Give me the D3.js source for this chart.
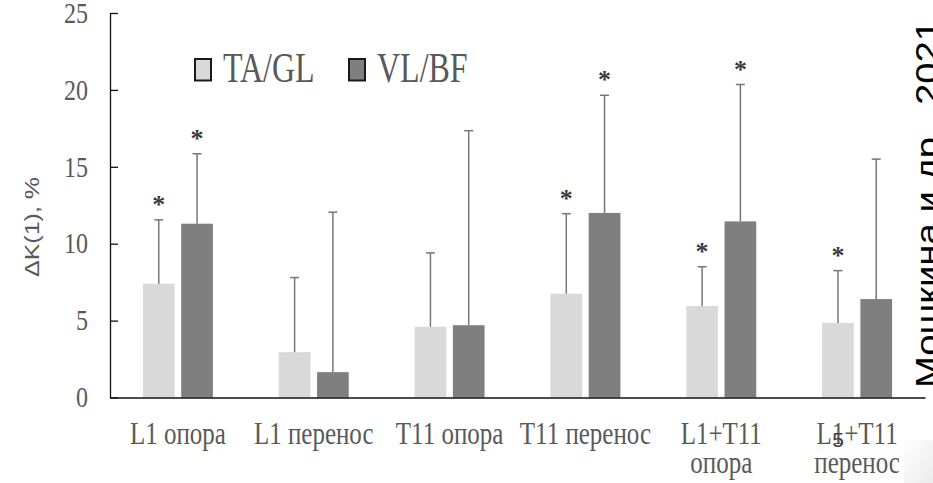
<!DOCTYPE html>
<html>
<head>
<meta charset="utf-8">
<script src="https://cdn.jsdelivr.net/npm/d3@7"></script>
<style>
  html, body { margin: 0; padding: 0; background: #fff; }
  svg { display: block; }
  .serif { font-family: "Liberation Serif", "DejaVu Serif", "Times New Roman", serif; }
  .sans { font-family: "Liberation Sans", "DejaVu Sans", Arial, sans-serif; }
</style>
</head>
<body>
<svg id="chart" width="933" height="483"></svg>
<script>
// Categories (x axis), each split into the lines it is printed on
const categories = ["L1 опора", "L1 перенос", "T11 опора", "T11 перенос", "L1+T11 опора", "L1+T11 перенос"];
const categoryLines = [["L1 опора"], ["L1 перенос"], ["T11 опора"], ["T11 перенос"], ["L1+T11", "опора"], ["L1+T11", "перенос"]];

// Series names
const seriesNames = ["TA/GL", "VL/BF"];

// Mean ΔK(1), % and upper error (SD) per category
const taGl    = [7.4, 2.95, 4.6, 6.75, 5.95, 4.85];
const taGlErr = [4.15, 4.85, 4.8, 5.2, 2.55, 3.4];
const vlBf    = [11.3, 1.65, 4.7, 12.0, 11.45, 6.4];
const vlBfErr = [4.55, 10.4, 12.65, 7.65, 8.9, 9.1];

// Significance marks (*)
const taGlSig = [true, false, false, true, true, true];
const vlBfSig = [true, false, false, true, true, false];

// Y axis ticks
const yTicks = [0, 5, 10, 15, 20, 25];

const seriesColors = ["#d9d9d9", "#7f7f7f"];
const textGray = "#595959";

const svg = d3.select("#chart");
const plot = { left: 110, right: 925, top: 13, bottom: 397.5 };

const y = d3.scaleLinear().domain([0, 25]).range([plot.bottom, plot.top]);
const x0 = d3.scaleBand().domain(categories).range([plot.left, plot.right])
  .paddingInner(0.485).paddingOuter(0.2425);
const x1 = d3.scaleBand().domain(seriesNames).range([0, x0.bandwidth()])
  .paddingInner(0.172).paddingOuter(0);

// Rows for bars
const series = [
  { name: seriesNames[0], values: taGl, errs: taGlErr, sig: taGlSig, color: seriesColors[0] },
  { name: seriesNames[1], values: vlBf, errs: vlBfErr, sig: vlBfSig, color: seriesColors[1] }
];
const rows = [];
series.forEach(s => categories.forEach((c, i) => rows.push({
  cat: c, name: s.name, value: s.values[i], err: s.errs[i], sig: s.sig[i], color: s.color
})));

// Bars
svg.append("g").selectAll("rect").data(rows).join("rect")
  .attr("x", d => x0(d.cat) + x1(d.name))
  .attr("y", d => y(d.value))
  .attr("width", x1.bandwidth())
  .attr("height", d => y(0) - y(d.value))
  .attr("fill", d => d.color);

// Upper error bars
const cx = d => x0(d.cat) + x1(d.name) + x1.bandwidth() / 2;
const eb = svg.append("g").attr("stroke", "#777").attr("stroke-width", 1.5);
eb.selectAll("line.stem").data(rows).join("line").attr("class", "stem")
  .attr("x1", cx).attr("x2", cx)
  .attr("y1", d => y(d.value)).attr("y2", d => y(d.value + d.err));
eb.selectAll("line.cap").data(rows).join("line").attr("class", "cap")
  .attr("x1", d => cx(d) - 4.5).attr("x2", d => cx(d) + 4.5)
  .attr("y1", d => y(d.value + d.err)).attr("y2", d => y(d.value + d.err));

// Significance asterisks
svg.append("g").selectAll("text").data(rows.filter(d => d.sig)).join("text")
  .attr("class", "serif")
  .attr("x", cx)
  .attr("y", d => y(d.value + d.err) - 7)
  .attr("text-anchor", "middle")
  .style("font-size", "26px")
  .style("font-weight", "bold")
  .attr("fill", "#3a3a3a")
  .text("*");

// Y axis with inward ticks
const yAxis = svg.append("g")
  .attr("transform", `translate(${plot.left},0)`)
  .call(d3.axisLeft(y).tickValues(yTicks).tickSizeInner(-8).tickSizeOuter(0).tickPadding(22));
yAxis.attr("font-family", null).attr("font-size", null);
yAxis.select(".domain").attr("stroke", "#111").attr("stroke-width", 1.3);
yAxis.selectAll(".tick line").attr("stroke", "#111").attr("stroke-width", 1.3);
yAxis.selectAll(".tick text")
  .attr("class", "serif").style("font-size", "24px").attr("fill", textGray)
  .attr("transform", "scale(1,1.2)");

// X axis line and wrapped category labels
const xAxis = svg.append("g")
  .attr("transform", `translate(0,${plot.bottom})`)
  .call(d3.axisBottom(x0).tickSize(0).tickFormat(""));
xAxis.attr("font-family", null).attr("font-size", null);
xAxis.select(".domain").attr("stroke", "#111").attr("stroke-width", 1.5);
xAxis.selectAll(".tick text").remove();
xAxis.selectAll(".tick").each(function (c) {
  const lines = categoryLines[categories.indexOf(c)];
  lines.forEach((ln, k) => {
    d3.select(this).append("text")
      .attr("class", "serif")
      .attr("transform", `translate(0,${46.5 + k * 29}) scale(1,1.25)`)
      .attr("text-anchor", "middle")
      .style("font-size", "25px").attr("fill", textGray)
      .text(ln);
  });
});

// Y axis title
svg.append("text")
  .attr("class", "sans")
  .attr("transform", "translate(38.5,227) rotate(-90)")
  .attr("text-anchor", "middle")
  .style("font-size", "21px").attr("fill", textGray)
  .attr("textLength", 100).attr("lengthAdjust", "spacingAndGlyphs")
  .text("ΔK(1), %");

// Legend
const legendPos = [194, 348];
const legend = svg.append("g").selectAll("g").data(series).join("g")
  .attr("transform", (d, i) => `translate(${legendPos[i]},58)`);
legend.append("rect")
  .attr("x", 1).attr("y", 1).attr("width", 16).attr("height", 21.5)
  .attr("fill", d => d.color).attr("stroke", "#1a1a1a").attr("stroke-width", 2);
legend.append("text")
  .attr("class", "serif")
  .attr("transform", "translate(29,23.5) scale(1,1.35)")
  .style("font-size", "32px").attr("fill", textGray)
  .text(d => d.name);

// Slide page number
svg.append("text")
  .attr("class", "sans")
  .attr("x", 838).attr("y", 447)
  .attr("text-anchor", "middle")
  .style("font-size", "21px").attr("fill", "#404040")
  .text("5");

// Faint panel edge at the lower right corner
const defs = svg.append("defs");
const grad = defs.append("linearGradient").attr("id", "cornerShade")
  .attr("x1", "0").attr("y1", "0").attr("x2", "1").attr("y2", "1");
grad.append("stop").attr("offset", "0").attr("stop-color", "#ffffff");
grad.append("stop").attr("offset", "1").attr("stop-color", "#ebebeb");
svg.append("rect")
  .attr("x", 904).attr("y", 440).attr("width", 29).attr("height", 43)
  .attr("fill", "url(#cornerShade)");

// Source reference, vertical on the right edge
svg.append("text")
  .attr("class", "sans")
  .attr("transform", "translate(939,388) rotate(-90)")
  .style("font-size", "34px").attr("fill", "#000")
  .attr("textLength", 368).attr("lengthAdjust", "spacingAndGlyphs")
  .text("Мошкина и др., 2021");
</script>
</body>
</html>
